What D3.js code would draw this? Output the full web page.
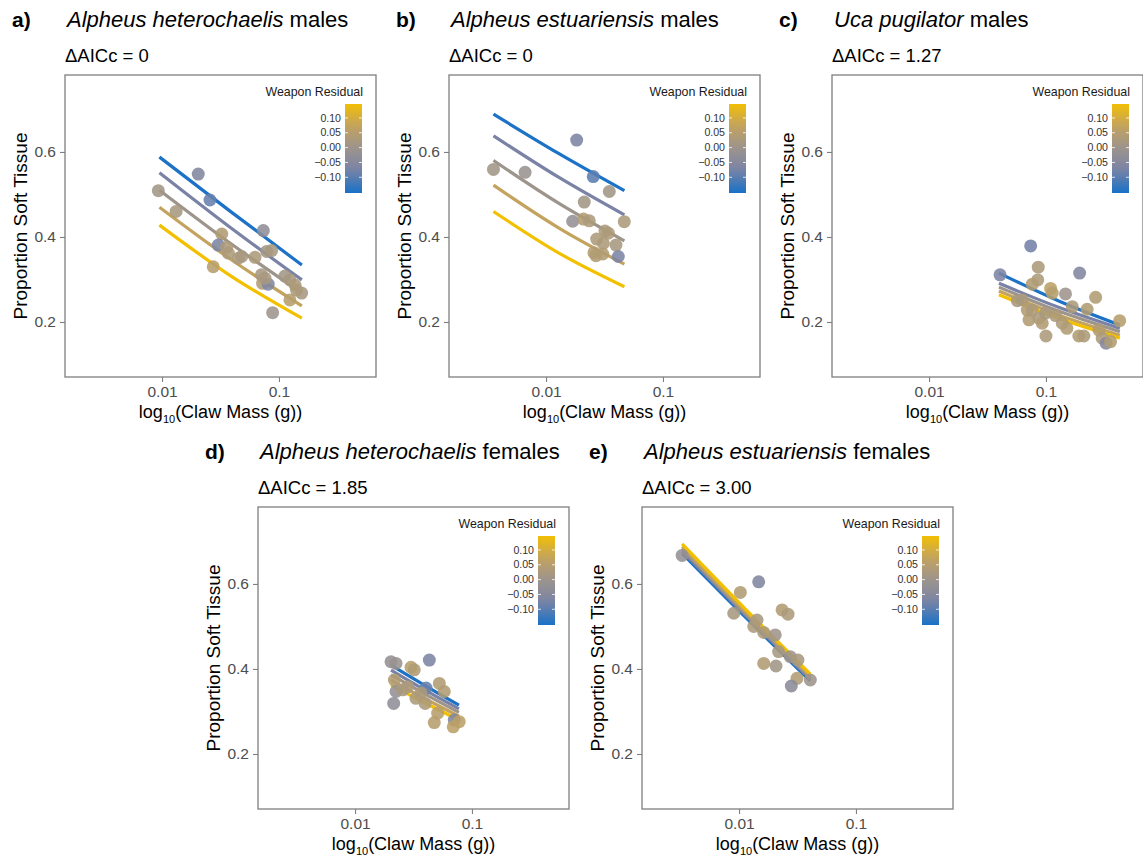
<!DOCTYPE html>
<html>
<head>
<meta charset="utf-8">
<script src="https://cdn.jsdelivr.net/npm/d3@7"></script>
<style>
  body { margin: 0; background: #fff; }
  text { font-family: "Liberation Sans", Arial, sans-serif; }
</style>
</head>
<body>
<svg id="chart" width="1143" height="861"></svg>
<script>
// panel labels
var letters = ["a)", "b)", "c)", "d)", "e)"];
var species = ["Alpheus heterochaelis", "Alpheus estuariensis", "Uca pugilator", "Alpheus heterochaelis", "Alpheus estuariensis"];
var sexes = ["males", "males", "males", "females", "females"];
var deltaAIC = ["0", "0", "1.27", "1.85", "3.00"];

// axis ticks
var xTicks = [0.01, 0.1];
var yTicks = [0.2, 0.4, 0.6];
var legendTicks = [-0.10, -0.05, 0.00, 0.05, 0.10];

// residual levels of the fitted lines
var lineLevels = [-0.15, -0.075, 0, 0.075, 0.15];

// a) A. heterochaelis males
var aMass = [0.0204, 0.0257, 0.0093, 0.0132, 0.0735, 0.0324, 0.0303, 0.0357, 0.0369, 0.0449, 0.0480, 0.0624, 0.0785, 0.0865, 0.0708, 0.0724, 0.0809, 0.0759, 0.1125, 0.1242, 0.1371, 0.1563, 0.124, 0.0274, 0.0883, 0.1413];
var aProp = [0.548, 0.487, 0.509, 0.460, 0.415, 0.407, 0.381, 0.376, 0.362, 0.350, 0.354, 0.352, 0.366, 0.368, 0.311, 0.291, 0.289, 0.303, 0.308, 0.299, 0.287, 0.268, 0.252, 0.330, 0.222, 0.275];
var aResid = [-0.06, -0.09, 0.01, 0.02, -0.03, 0.04, -0.07, 0.03, 0.03, 0.03, 0.02, 0.03, 0.01, 0.02, 0.02, 0.04, -0.06, 0.02, 0.01, 0.02, 0.03, 0.02, 0.05, 0.05, 0.0, 0.03];
var aLineMass = [0.0095, 0.0389, 0.157];
var aLineProp = [[0.588, 0.459, 0.334], [0.551, 0.421, 0.299], [0.510, 0.384, 0.268], [0.470, 0.347, 0.238], [0.428, 0.308, 0.209]];

// b) A. estuariensis males
var bMass = [0.00355, 0.00662, 0.01828, 0.02535, 0.03475, 0.02123, 0.0169, 0.0209, 0.02344, 0.04667, 0.03192, 0.02710, 0.0309, 0.03963, 0.0257, 0.02673, 0.03055, 0.0415, 0.0341];
var bProp = [0.559, 0.552, 0.628, 0.542, 0.507, 0.482, 0.437, 0.442, 0.438, 0.436, 0.414, 0.395, 0.385, 0.381, 0.363, 0.356, 0.360, 0.354, 0.409];
var bResid = [0.01, -0.01, -0.07, -0.10, 0.01, 0.01, -0.02, 0.04, 0.03, 0.03, 0.03, 0.03, 0.03, 0.02, 0.04, 0.04, 0.04, -0.07, 0.03];
var bLineMass = [0.00355, 0.0129, 0.0468];
var bLineProp = [[0.689, 0.596, 0.509], [0.638, 0.540, 0.452], [0.580, 0.479, 0.391], [0.522, 0.421, 0.336], [0.460, 0.362, 0.283]];

// c) U. pugilator males
var cMass = [0.0740, 0.0405, 0.0859, 0.0851, 0.194, 0.0764, 0.1096, 0.1132, 0.147, 0.266, 0.0627, 0.0692, 0.0716, 0.0871, 0.0929, 0.0993, 0.168, 0.225, 0.138, 0.151, 0.100, 0.191, 0.211, 0.284, 0.303, 0.327, 0.357, 0.427, 0.0569, 0.0759, 0.121];
var cProp = [0.379, 0.311, 0.329, 0.299, 0.315, 0.289, 0.279, 0.268, 0.266, 0.258, 0.252, 0.228, 0.205, 0.209, 0.197, 0.221, 0.236, 0.230, 0.197, 0.185, 0.167, 0.167, 0.167, 0.181, 0.162, 0.150, 0.154, 0.203, 0.250, 0.228, 0.215];
var cResid = [-0.08, -0.07, 0.03, 0.03, -0.06, 0.04, 0.06, 0.05, 0.0, 0.04, 0.03, 0.04, 0.04, 0.03, 0.04, 0.02, 0.03, 0.04, 0.03, 0.04, 0.03, 0.04, 0.03, 0.04, 0.03, -0.05, 0.04, 0.05, 0.02, 0.03, 0.03];
var cLineMass = [0.0396, 0.130, 0.4285];
var cLineProp = [[0.315, 0.249, 0.193], [0.291, 0.234, 0.185], [0.282, 0.225, 0.177], [0.273, 0.216, 0.169], [0.264, 0.208, 0.162]];

// d) A. heterochaelis females
var dMass = [0.0203, 0.0224, 0.0432, 0.0301, 0.0321, 0.0217, 0.0224, 0.0256, 0.0214, 0.0405, 0.0526, 0.0580, 0.0332, 0.0398, 0.0509, 0.0476, 0.0706, 0.0778, 0.0692, 0.0282, 0.0366];
var dProp = [0.417, 0.413, 0.421, 0.404, 0.398, 0.374, 0.347, 0.351, 0.319, 0.355, 0.366, 0.347, 0.331, 0.319, 0.296, 0.274, 0.280, 0.276, 0.264, 0.358, 0.343];
var dResid = [-0.02, -0.01, -0.07, 0.05, 0.04, 0.04, -0.02, 0.02, -0.03, -0.09, 0.04, 0.04, 0.03, 0.03, 0.05, 0.05, -0.07, 0.06, 0.06, 0.03, 0.03];
var dLineMass = [0.0203, 0.0397, 0.0774];
var dLineProp = [[0.409, 0.361, 0.315], [0.397, 0.350, 0.306], [0.386, 0.341, 0.298], [0.374, 0.330, 0.289], [0.362, 0.320, 0.280]];

// e) A. estuariensis females
var eMass = [0.00326, 0.01472, 0.01026, 0.00901, 0.02333, 0.02624, 0.01426, 0.01337, 0.01626, 0.0204, 0.0218, 0.0274, 0.0319, 0.01626, 0.0207, 0.0313, 0.0280, 0.0407];
var eProp = [0.667, 0.605, 0.580, 0.531, 0.539, 0.529, 0.515, 0.500, 0.486, 0.480, 0.441, 0.429, 0.421, 0.413, 0.407, 0.378, 0.360, 0.374];
var eResid = [-0.02, -0.06, 0.04, 0.02, 0.04, 0.03, 0.02, 0.03, 0.03, 0.0, 0.02, 0.0, 0.02, 0.04, 0.01, 0.04, -0.04, 0.0];
var eLineMass = [0.00326, 0.0115, 0.0407];
var eLineProp = [[0.672, 0.520, 0.372], [0.677, 0.525, 0.376], [0.683, 0.529, 0.380], [0.688, 0.534, 0.384], [0.694, 0.539, 0.388]];

var panels = [
  {mass: aMass, prop: aProp, resid: aResid, lineMass: aLineMass, lineProp: aLineProp},
  {mass: bMass, prop: bProp, resid: bResid, lineMass: bLineMass, lineProp: bLineProp},
  {mass: cMass, prop: cProp, resid: cResid, lineMass: cLineMass, lineProp: cLineProp},
  {mass: dMass, prop: dProp, resid: dResid, lineMass: dLineMass, lineProp: dLineProp},
  {mass: eMass, prop: eProp, resid: eResid, lineMass: eLineMass, lineProp: eLineProp}
];

// where each panel box sits
var boxes = [[65, 75], [449, 75], [832, 75], [258, 507], [642, 507]];
var W = 311, H = 302;

var x = d3.scaleLog().domain([Math.pow(10, -2.83), Math.pow(10, -0.17)]).range([0, W]);
var y = d3.scaleLinear().domain([0.0706, 0.781]).range([H, 0]);

var resColor = d3.scaleLinear()
    .domain([-0.15, -0.075, 0, 0.075, 0.15])
    .range(["#1b72c6", "#7a83a5", "#9d948c", "#c3a35e", "#f3c000"]);

var legScale = d3.scaleLinear().domain([-0.153, 0.147]).range([89, 0]);

var svg = d3.select("#chart");

// gradient for the colour bar
var grad = svg.append("defs").append("linearGradient")
    .attr("id", "resgrad")
    .attr("x1", 0).attr("y1", 1).attr("x2", 0).attr("y2", 0);
d3.range(0, 1.0001, 0.1).forEach(function(t) {
    var v = -0.153 + t * 0.3;
    grad.append("stop").attr("offset", t).attr("stop-color", resColor(v));
});

var line = d3.line()
    .x(function(d) { return x(d[0]); })
    .y(function(d) { return y(d[1]); })
    .curve(d3.curveNatural);

panels.forEach(function(p, i) {
    var bx = boxes[i][0], by = boxes[i][1];
    var g = svg.append("g").attr("transform", "translate(" + bx + "," + by + ")");

    // titles
    g.append("text").attr("x", -53).attr("y", -48)
        .attr("font-size", 21).attr("font-weight", "bold").text(letters[i]);
    var t = g.append("text").attr("x", 2).attr("y", -48).attr("font-size", 22);
    t.append("tspan").attr("font-style", "italic").text(species[i]);
    t.append("tspan").text(" " + sexes[i]);
    g.append("text").attr("x", 0).attr("y", -13).attr("font-size", 18.5)
        .text("\u0394AICc = " + deltaAIC[i]);

    // fitted lines
    p.lineProp.forEach(function(vals, k) {
        var pts = p.lineMass.map(function(m, j) { return [m, vals[j]]; });
        g.append("path").attr("d", line(pts))
            .attr("fill", "none")
            .attr("stroke", resColor(lineLevels[k]))
            .attr("stroke-width", 3.2);
    });

    // points
    g.selectAll("circle.pt")
        .data(p.mass.map(function(m, j) { return {m: m, p: p.prop[j], r: p.resid[j]}; }))
        .enter().append("circle")
        .attr("class", "pt")
        .attr("cx", function(d) { return x(d.m); })
        .attr("cy", function(d) { return y(d.p); })
        .attr("r", 6.5)
        .attr("fill", function(d) { return resColor(d.r); })
        .attr("fill-opacity", 0.88);

    // box
    g.append("rect").attr("width", W).attr("height", H)
        .attr("fill", "none").attr("stroke", "#7f7f7f").attr("stroke-width", 1.3);

    // axes
    var xa = g.append("g").attr("transform", "translate(0," + H + ")")
        .call(d3.axisBottom(x).tickValues(xTicks).tickSize(5).tickPadding(4)
            .tickFormat(function(d) { return d === 0.01 ? "0.01" : "0.1"; }));
    var ya = g.append("g")
        .call(d3.axisLeft(y).tickValues(yTicks).tickSize(5).tickPadding(4)
            .tickFormat(d3.format(".1f")));
    [xa, ya].forEach(function(a) {
        a.select(".domain").remove();
        a.selectAll("line").attr("stroke", "#7f7f7f").attr("stroke-width", 1.1);
        a.selectAll("text").attr("fill", "#4d4d4d").attr("font-size", 15.5)
            .attr("font-family", "Liberation Sans, Arial, sans-serif");
    });

    // axis titles
    var xt = g.append("text").attr("x", W / 2).attr("y", H + 41)
        .attr("text-anchor", "middle").attr("font-size", 18);
    xt.append("tspan").text("log");
    xt.append("tspan").attr("font-size", 11).attr("dy", 5).text("10");
    xt.append("tspan").attr("dy", -5).text("(Claw Mass (g))");
    g.append("text")
        .attr("transform", "translate(-38," + (H / 2) + ") rotate(-90)")
        .attr("text-anchor", "middle").attr("font-size", 19)
        .text("Proportion Soft Tissue");

    // legend
    var lg = g.append("g").attr("transform", "translate(" + (W - 31) + ",29)");
    g.append("text").attr("x", W - 13).attr("y", 21)
        .attr("text-anchor", "end").attr("font-size", 12.4).attr("fill", "#1a1a1a")
        .text("Weapon Residual");
    lg.append("rect").attr("width", 17).attr("height", 89).attr("fill", "url(#resgrad)");
    legendTicks.forEach(function(v) {
        var yy = legScale(v);
        lg.append("line").attr("x1", 0).attr("x2", 3).attr("y1", yy).attr("y2", yy)
            .attr("stroke", "#fff").attr("stroke-width", 0.8);
        lg.append("line").attr("x1", 14).attr("x2", 17).attr("y1", yy).attr("y2", yy)
            .attr("stroke", "#fff").attr("stroke-width", 0.8);
        lg.append("text").attr("x", -4).attr("y", yy).attr("dy", "0.35em")
            .attr("text-anchor", "end").attr("font-size", 10.6).attr("fill", "#333")
            .text(d3.format(".2f")(v).replace("-", "\u2013"));
    });
});
</script>
</body>
</html>
